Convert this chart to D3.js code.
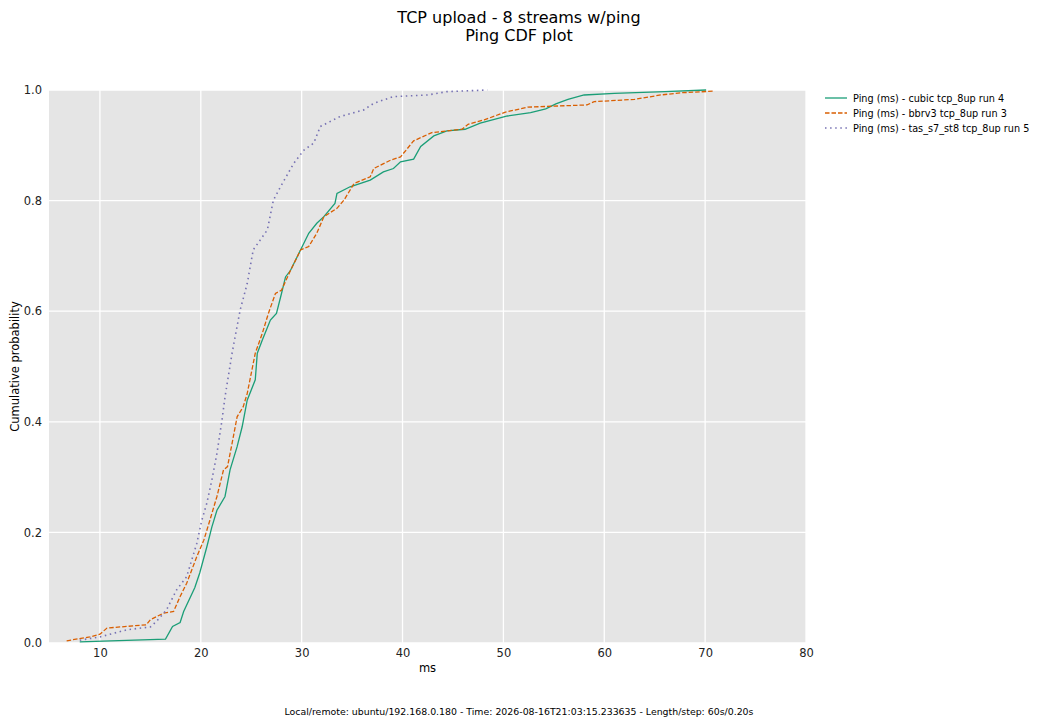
<!DOCTYPE html>
<html>
<head>
<meta charset="utf-8">
<script src="https://cdn.jsdelivr.net/npm/d3@7"></script>
<style>
  body { margin: 0; background: #fff; }
  text { font-family: "DejaVu Sans", sans-serif; }
</style>
</head>
<body>
<svg id="chart"></svg>
<script>
var width = 1040, height = 726;
var margin = { left: 49, right: 234, top: 90, bottom: 83 };

// series names
var seriesNames = [
    "Ping (ms) - cubic tcp_8up run 4",
    "Ping (ms) - bbrv3 tcp_8up run 3",
    "Ping (ms) - tas_s7_st8 tcp_8up run 5"
];
var colors = ["#1b9e77", "#d95f02", "#7570b3"];
var dashes = [null, "4.5,2", "1.5,3.6"];

// cubic: [ms, cumulative probability]
var cubicMs = [8.0, 16.5, 17.2, 17.95, 18.3, 19.4, 19.9, 20.6, 21.1, 21.6, 22.4, 22.9, 23.6, 24.1, 24.6, 25.4, 25.6, 26.1, 26.9, 27.5, 28.0, 28.4, 28.9, 29.9, 30.7, 31.5, 32.2, 33.3, 33.5, 34.8, 36.8, 38.1, 39.1, 39.8, 41.1, 41.8, 43.1, 44.4, 46.2, 47.7, 50.4, 52.7, 54.2, 55.2, 56.4, 58.0, 61.0, 66.0, 70.1];
var cubicP = [0.002, 0.007, 0.030, 0.037, 0.057, 0.100, 0.127, 0.174, 0.210, 0.240, 0.265, 0.313, 0.355, 0.391, 0.439, 0.476, 0.524, 0.548, 0.584, 0.596, 0.632, 0.662, 0.674, 0.711, 0.741, 0.759, 0.771, 0.795, 0.813, 0.825, 0.837, 0.852, 0.858, 0.870, 0.875, 0.898, 0.917, 0.926, 0.929, 0.940, 0.953, 0.959, 0.966, 0.975, 0.983, 0.991, 0.994, 0.997, 1.0];

// bbrv3
var bbrMs = [6.7, 9.0, 10.0, 10.7, 12.0, 14.6, 15.0, 16.3, 17.3, 17.95, 18.6, 19.6, 20.3, 20.9, 21.6, 22.25, 22.65, 23.1, 23.6, 24.2, 24.6, 25.4, 26.1, 26.7, 27.4, 28.0, 28.9, 29.9, 30.7, 31.5, 32.2, 33.5, 34.2, 35.2, 36.8, 37.15, 38.8, 39.8, 41.1, 42.9, 45.9, 46.5, 48.1, 50.2, 52.4, 58.3, 59.0, 63.0, 65.6, 67.6, 70.9];
var bbrP = [0.004, 0.011, 0.016, 0.027, 0.029, 0.033, 0.042, 0.054, 0.057, 0.084, 0.108, 0.156, 0.186, 0.222, 0.265, 0.313, 0.319, 0.361, 0.409, 0.427, 0.451, 0.524, 0.560, 0.596, 0.632, 0.638, 0.674, 0.711, 0.717, 0.741, 0.771, 0.786, 0.801, 0.831, 0.843, 0.858, 0.873, 0.879, 0.908, 0.923, 0.929, 0.938, 0.946, 0.960, 0.969, 0.973, 0.979, 0.983, 0.991, 0.995, 0.998];

// tas_s7_st8
var tasMs = [8.0, 10.0, 12.7, 15.0, 15.6, 16.6, 17.6, 18.6, 19.6, 20.1, 20.6, 21.1, 21.6, 22.1, 22.4, 23.1, 23.9, 24.6, 25.2, 25.9, 26.6, 27.2, 27.9, 29.2, 30.2, 31.2, 31.85, 33.8, 36.15, 37.15, 39.1, 42.5, 44.4, 48.4];
var tasP = [0.005, 0.011, 0.024, 0.029, 0.039, 0.060, 0.096, 0.120, 0.180, 0.222, 0.253, 0.295, 0.343, 0.403, 0.445, 0.524, 0.602, 0.650, 0.711, 0.729, 0.747, 0.801, 0.825, 0.867, 0.891, 0.904, 0.934, 0.952, 0.964, 0.976, 0.988, 0.991, 0.997, 1.0];

var xTicks = [10, 20, 30, 40, 50, 60, 70, 80];
var yTicks = [0.0, 0.2, 0.4, 0.6, 0.8, 1.0];

var svg = d3.select('#chart')
    .attr('width', width)
    .attr('height', height);

var x = d3.scaleLinear().domain([4.95, 80]).range([margin.left, width - margin.right]);
var y = d3.scaleLinear().domain([0, 1]).range([height - margin.bottom, margin.top]);

// plot background
svg.append('rect')
    .attr('x', x.range()[0])
    .attr('y', y.range()[1])
    .attr('width', x.range()[1] - x.range()[0])
    .attr('height', y.range()[0] - y.range()[1])
    .attr('fill', '#e5e5e5');

// grid
svg.append('g').selectAll('line')
    .data(xTicks)
    .join('line')
    .attr('x1', d => x(d)).attr('x2', d => x(d))
    .attr('y1', y(0)).attr('y2', y(1))
    .attr('stroke', '#fff').attr('stroke-width', 1.3);

svg.append('g').selectAll('line')
    .data(yTicks)
    .join('line')
    .attr('x1', x.range()[0]).attr('x2', x.range()[1])
    .attr('y1', d => y(d)).attr('y2', d => y(d))
    .attr('stroke', '#fff').attr('stroke-width', 1.3);

// axes
var xAxis = svg.append('g')
    .attr('transform', `translate(0, ${y(0)})`)
    .call(d3.axisBottom(x).tickValues(xTicks).tickSize(0).tickPadding(6).tickFormat(d3.format('d')));
var yAxis = svg.append('g')
    .attr('transform', `translate(${x.range()[0]}, 0)`)
    .call(d3.axisLeft(y).tickValues(yTicks).tickSize(0).tickPadding(7).tickFormat(d3.format('.1f')));

[xAxis, yAxis].forEach(function (a) {
    a.select('.domain').remove();
    a.selectAll('text')
        .attr('font-family', '"DejaVu Sans", sans-serif')
        .attr('font-size', 11.5)
        .attr('fill', '#222');
});

// lines
var allSeries = [
    cubicMs.map((d, i) => [d, cubicP[i]]),
    bbrMs.map((d, i) => [d, bbrP[i]]),
    tasMs.map((d, i) => [d, tasP[i]])
];

var line = d3.line()
    .x(d => x(d[0]))
    .y(d => y(d[1]));

svg.append('g').selectAll('path')
    .data(allSeries)
    .join('path')
    .attr('d', line)
    .attr('fill', 'none')
    .attr('stroke', (d, i) => colors[i])
    .attr('stroke-width', (d, i) => i == 2 ? 1.6 : 1.3)
    .attr('stroke-dasharray', (d, i) => dashes[i]);

// axis labels
svg.append('text')
    .attr('x', (x.range()[0] + x.range()[1]) / 2)
    .attr('y', 672)
    .attr('text-anchor', 'middle')
    .attr('font-size', 11.5)
    .text('ms');

svg.append('text')
    .attr('transform', `translate(19, ${(y.range()[0] + y.range()[1]) / 2}) rotate(-90)`)
    .attr('text-anchor', 'middle')
    .attr('font-size', 11.5)
    .text('Cumulative probability');

// title
svg.append('text')
    .attr('x', 519).attr('y', 23)
    .attr('text-anchor', 'middle')
    .attr('font-size', 16)
    .text('TCP upload - 8 streams w/ping');
svg.append('text')
    .attr('x', 519).attr('y', 41)
    .attr('text-anchor', 'middle')
    .attr('font-size', 16)
    .text('Ping CDF plot');

// legend
var legend = svg.append('g').attr('transform', 'translate(825, 98)');
var rows = legend.selectAll('g')
    .data(seriesNames)
    .join('g')
    .attr('transform', (d, i) => `translate(0, ${i * 15})`);
rows.append('line')
    .attr('x1', 0).attr('x2', 22)
    .attr('stroke', (d, i) => colors[i])
    .attr('stroke-width', (d, i) => i == 2 ? 1.6 : 1.3)
    .attr('stroke-dasharray', (d, i) => dashes[i]);
rows.append('text')
    .attr('x', 28).attr('y', 3.5)
    .attr('font-size', 9.7)
    .text(d => d);

// footer
svg.append('text')
    .attr('x', 519).attr('y', 715)
    .attr('text-anchor', 'middle')
    .attr('font-size', 9.4)
    .text('Local/remote: ubuntu/192.168.0.180 - Time: 2026-08-16T21:03:15.233635 - Length/step: 60s/0.20s');
</script>
</body>
</html>
